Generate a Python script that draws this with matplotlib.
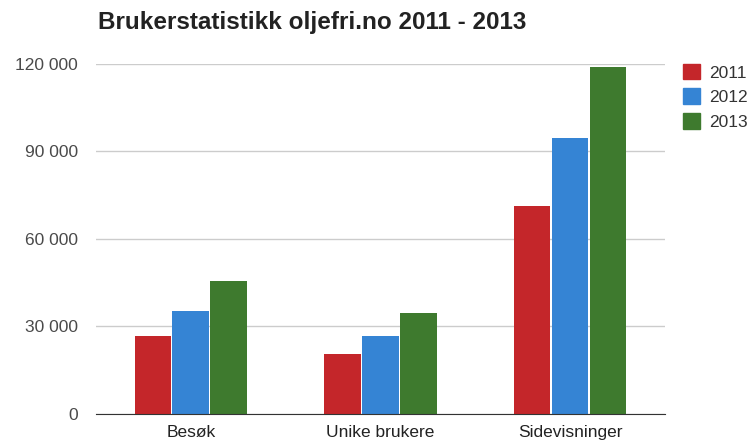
import numpy as np
import matplotlib
matplotlib.use("Agg")
import matplotlib.pyplot as plt
from matplotlib.patches import Patch

plt.rcParams['font.family'] = ['Liberation Sans', 'DejaVu Sans']

categories = ["Besøk", "Unike brukere", "Sidevisninger"]
years = ["2011", "2012", "2013"]
v2011 = [26900, 20400, 71300]
v2012 = [35200, 26900, 94600]
v2013 = [45500, 34500, 119000]
colors = ["#c4262a", "#3584d4", "#3e7a2e"]
yticks = [0, 30000, 60000, 90000, 120000]

fig = plt.figure(figsize=(7.52, 4.41), dpi=100)
ax = fig.add_axes([0.1277, 0.0612, 0.7563, 0.794])

x = np.arange(len(categories))
w = 0.2
for i, (vals, c) in enumerate(zip([v2011, v2012, v2013], colors)):
    ax.bar(x + (i - 1) * w, vals, width=w * 0.97, color=c, zorder=3)

ax.set_xlim(-0.5, 2.5)
ax.set_ylim(0, 120000)
ax.set_yticks(yticks)
ax.set_yticklabels([f"{v:,}".replace(",", " ") for v in yticks], color="#4a4a4a", fontsize=12.5)
ax.set_xticks(x)
ax.set_xticklabels(categories, color="#222222", fontsize=12.5)
ax.tick_params(axis="y", length=0, pad=13)
ax.tick_params(axis="x", length=0, pad=8)
ax.grid(axis="y", color="#cccccc", linewidth=1, zorder=0)
for s in ["top", "right", "left"]:
    ax.spines[s].set_visible(False)
ax.spines["bottom"].set_color("#333333")
ax.spines["bottom"].set_zorder(4)

fig.text(0.13, 0.95, "Brukerstatistikk oljefri.no 2011 - 2013", fontsize=17.5,
         fontweight="bold", color="#222222", va="center")

handles = [Patch(color=c) for c in colors]
leg = fig.legend(handles, years, loc="upper left", bbox_to_anchor=(0.908, 0.855), frameon=False,
                 fontsize=12.5, handlelength=1.0, handleheight=1.0, handletextpad=0.5,
                 labelspacing=0.45, borderaxespad=0, borderpad=0)
for t in leg.get_texts():
    t.set_color("#333333")

fig.savefig("out.png", dpi=100)
